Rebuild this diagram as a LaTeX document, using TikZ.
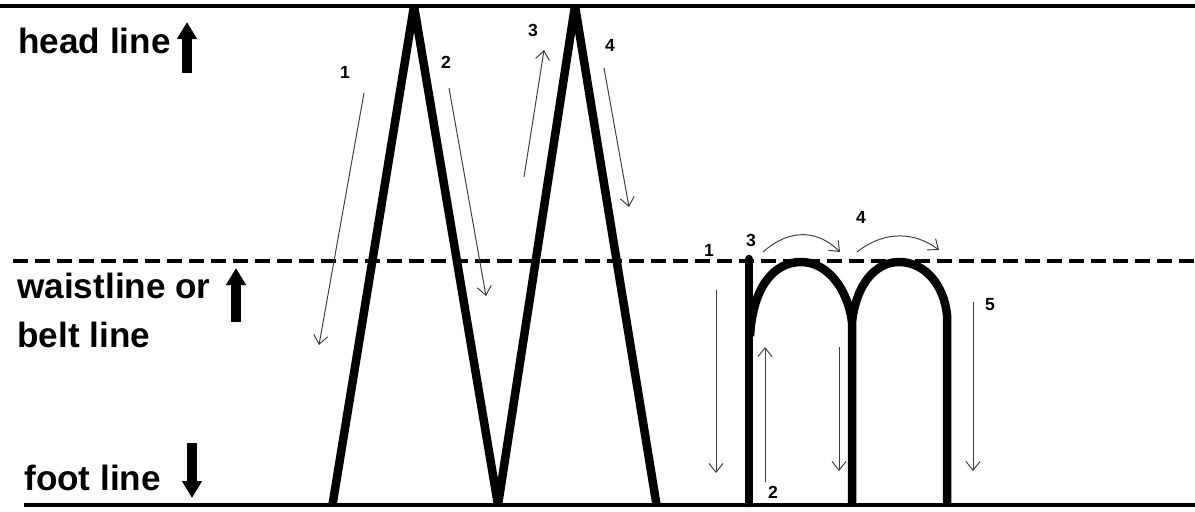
\documentclass[tikz,border=0pt]{standalone}
\usepackage{fontspec}
\setmainfont{Liberation Sans}
\usepackage{tikz}
\usetikzlibrary{arrows.meta,positioning}
\definecolor{guideGray}{RGB}{60,60,60}

\begin{document}
\begin{tikzpicture}[x=0.02cm, y=-0.02cm,
    every node/.style={inner sep=0pt},
    lineText/.style={anchor=base west, font=\fontsize{20}{24}\selectfont\bfseries},
    stepNum/.style={font=\fontsize{10}{11}\selectfont\bfseries},
    ruleLine/.style={line width=0.08cm},
    waistRule/.style={line width=0.08cm, dash pattern=on 0.3cm off 0.14cm},
    stroke/.style={line width=0.17cm, line join=miter},
    bigArrow/.style={line width=0.2cm, -{Triangle[length=0.34cm, width=0.38cm]}},
    guide/.style={guideGray, line width=0.55pt, -{Straight Barb[length=5pt, width=8pt]}}
  ]
    \useasboundingbox (0,0) rectangle (1195,511);
    % Writing lines
    \draw[ruleLine] (0,6) -- (1195,6);
    \draw[waistRule] (13,261) -- (1195,261);
    \draw[ruleLine] (24,505) -- (1195,505);
    % Line names
    \node[lineText] (headTxt) at (18,53) {head line};
    \node[lineText] (waistTxt) at (17,298) {waistline or};
    \node[lineText] (beltTxt) at (17,347) {belt line};
    \node[lineText] (footTxt) at (24,490) {foot line};
    \draw[bigArrow] (187,73) -- (187,22);
    \draw[bigArrow] (236,322) -- (236,268);
    \draw[bigArrow] (192,443) -- (192,498);
    % Capital M
    \begin{scope}
      \clip (0,6) rectangle (1195,505);
      \draw[stroke] (330,520) -- (414,6) -- (498,505) -- (575,6) -- (659,520);
    \end{scope}
    \draw[guide] (364,93) -- (319,345);
    \draw[guide] (449,88) -- (486,296);
    \draw[guide] (524,177) -- (544,50);
    \draw[guide] (604,68) -- (629,207);
    \node[stepNum] (bigOne) at (345,72) {1};
    \node[stepNum] (bigTwo) at (446,62) {2};
    \node[stepNum] (bigThree) at (533,30) {3};
    \node[stepNum] (bigFour) at (610,45) {4};
    % Small m
    \draw[stroke, line cap=round] (749,259) -- (749,503);
    \draw[stroke] (749,505) -- (749,335);
    \draw[stroke] (750,336) .. controls (753,285) and (775,262) .. (801,262)
      .. controls (828,262) and (848,290) .. (852,322);
    \draw[stroke] (852,505) -- (852,322)
      .. controls (856,285) and (875,262) .. (899,262)
      .. controls (925,262) and (944,285) .. (947,315) -- (947,505);
    \draw[guide] (716,290) -- (716,473);
    \draw[guide] (765,482) -- (765,347);
    \draw[guide] (763,252) .. controls (790,228) and (818,230) .. (840,252);
    \draw[guide] (857,252) .. controls (885,230) and (915,232) .. (939,250);
    \draw[guide] (839,347) -- (839,471);
    \draw[guide] (973,302) -- (973,471);
    \node[stepNum] (smallOne) at (709,250) {1};
    \node[stepNum] (smallTwo) at (773,492) {2};
    \node[stepNum] (smallThree) at (751,240) {3};
    \node[stepNum] (smallFour) at (861,217) {4};
    \node[stepNum] (smallFive) at (990,305) {5};
  \end{tikzpicture}
\end{document}
